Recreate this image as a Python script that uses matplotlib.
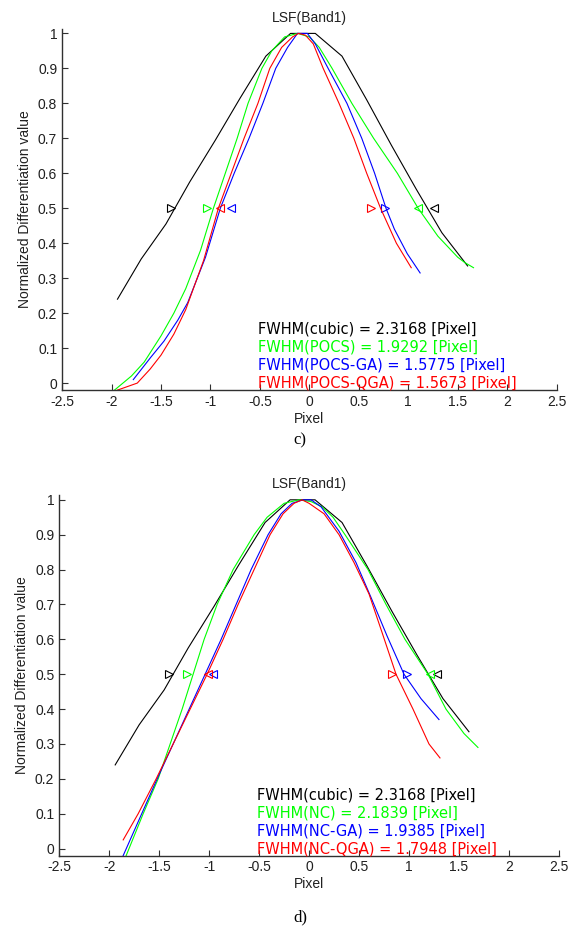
import matplotlib
matplotlib.use("Agg")
import matplotlib.pyplot as plt
import numpy as np

plt.rcParams['font.family'] = ['Liberation Sans', 'DejaVu Sans']

# ---- data: panel c) ----
cubic_x = [-1.94, -1.70, -1.45, -1.21, -0.95, -0.70, -0.44, -0.19, 0.06, 0.33, 0.58, 0.83, 1.08, 1.34, 1.60]
cubic_y = [0.24, 0.355, 0.455, 0.575, 0.695, 0.815, 0.935, 1.0, 1.0, 0.935, 0.81, 0.68, 0.555, 0.43, 0.335]

pocs_x = [-1.97, -1.80, -1.67, -1.50, -1.37, -1.25, -1.10, -0.97, -0.85, -0.73, -0.62, -0.48, -0.38, -0.25, -0.12,
          0.0, 0.10, 0.23, 0.43, 0.65, 0.89, 1.10, 1.30, 1.50, 1.57, 1.66]
pocs_y = [-0.02, 0.02, 0.06, 0.135, 0.20, 0.27, 0.38, 0.50, 0.60, 0.70, 0.80, 0.90, 0.95, 0.99, 1.0,
          0.99, 0.96, 0.90, 0.80, 0.70, 0.60, 0.50, 0.42, 0.36, 0.345, 0.33]

pocs_ga_x = [-1.78, -1.60, -1.47, -1.33, -1.23, -1.05, -0.90, -0.76, -0.61, -0.47, -0.34, -0.22, -0.12, -0.02,
             0.06, 0.19, 0.38, 0.53, 0.66, 0.775, 0.86, 0.99, 1.12]
pocs_ga_y = [0.01, 0.075, 0.12, 0.18, 0.23, 0.36, 0.50, 0.60, 0.70, 0.80, 0.90, 0.96, 1.0, 1.0,
             0.97, 0.90, 0.80, 0.70, 0.60, 0.50, 0.44, 0.37, 0.315]

pocs_qga_x = [-1.94, -1.74, -1.61, -1.50, -1.37, -1.25, -1.07, -0.92, -0.79, -0.66, -0.52, -0.40, -0.28, -0.17, -0.11,
              -0.04, 0.04, 0.14, 0.30, 0.45, 0.58, 0.72, 0.88, 1.03]
pocs_qga_y = [-0.02, 0.0, 0.04, 0.08, 0.14, 0.21, 0.35, 0.50, 0.60, 0.70, 0.80, 0.90, 0.96, 0.99, 1.0,
              0.995, 0.97, 0.90, 0.80, 0.70, 0.60, 0.50, 0.40, 0.33]

# ---- data: panel d) ----
nc_x = [-1.83, -1.66, -1.51, -1.39, -1.27, -1.16, -1.05, -0.92, -0.76, -0.55, -0.42, -0.25, -0.10,
        0.02, 0.13, 0.24, 0.36, 0.59, 0.77, 0.96, 1.19, 1.37, 1.55, 1.69]
nc_y = [-0.02, 0.10, 0.20, 0.30, 0.40, 0.50, 0.60, 0.70, 0.80, 0.90, 0.95, 0.99, 1.0,
        0.995, 0.98, 0.95, 0.90, 0.80, 0.70, 0.60, 0.50, 0.40, 0.33, 0.29]

nc_ga_x = [-1.86, -1.69, -1.52, -1.36, -1.20, -1.04, -0.88, -0.73, -0.58, -0.41, -0.28, -0.17, -0.06,
           0.02, 0.12, 0.30, 0.47, 0.62, 0.78, 0.95, 1.12, 1.30]
nc_ga_y = [-0.02, 0.09, 0.20, 0.30, 0.40, 0.50, 0.60, 0.70, 0.80, 0.90, 0.96, 0.99, 1.0,
           1.0, 0.98, 0.91, 0.82, 0.72, 0.61, 0.50, 0.43, 0.37]

nc_qga_x = [-1.86, -1.71, -1.53, -1.36, -1.19, -1.02, -0.86, -0.71, -0.55, -0.39, -0.26, -0.15, -0.07,
            0.0, 0.15, 0.30, 0.45, 0.60, 0.73, 0.87, 1.04, 1.20, 1.31]
nc_qga_y = [0.025, 0.10, 0.20, 0.30, 0.40, 0.50, 0.60, 0.70, 0.80, 0.90, 0.96, 0.99, 1.0,
            0.99, 0.96, 0.90, 0.82, 0.73, 0.62, 0.50, 0.40, 0.30, 0.26]

# half-max marker positions (left, right)
marks_c = {'cubic': (-1.40, 1.265), 'pocs': (-1.03, 1.10), 'ga': (-0.79, 0.76), 'qga': (-0.90, 0.625)}
marks_d = {'cubic': (-1.40, 1.28), 'nc': (-1.22, 1.21), 'ga': (-0.96, 0.98), 'qga': (-1.01, 0.83)}

labels_c = ['FWHM(cubic) = 2.3168 [Pixel]', 'FWHM(POCS) = 1.9292 [Pixel]',
            'FWHM(POCS-GA) = 1.5775 [Pixel]', 'FWHM(POCS-QGA) = 1.5673 [Pixel]']
labels_d = ['FWHM(cubic) = 2.3168 [Pixel]', 'FWHM(NC) = 2.1839 [Pixel]',
            'FWHM(NC-GA) = 1.9385 [Pixel]', 'FWHM(NC-QGA) = 1.7948 [Pixel]']

colors = ['#000000', '#00ff00', '#0000ff', '#ff0000']
left_mk = ['>', '>', '<', '<']
right_mk = ['<', '<', '>', '>']

fig = plt.figure(figsize=(5.75, 9.31), dpi=100)
ax1 = fig.add_axes([0.108, 0.581, 0.860, 0.388])
ax2 = fig.add_axes([0.103, 0.081, 0.869, 0.387])


def draw_panel(ax, series, marks, labels):
    for (xs, ys), (ml, mr), c, lm, rm in zip(series, marks, colors, left_mk, right_mk):
        ax.plot(xs, ys, color=c, lw=0.8)
        ax.plot([ml], [0.5], marker=lm, ms=6, mfc='none', mec=c, mew=0.8, ls='none')
        ax.plot([mr], [0.5], marker=rm, ms=6, mfc='none', mec=c, mew=0.8, ls='none')
    for i, (lab, c) in enumerate(zip(labels, colors)):
        ax.text(-0.52, 0.155 - 0.052 * i, lab, color=c, fontsize=10.5, family='DejaVu Sans',
                va='center', ha='left')
    ax.set_xlim(-2.5, 2.5)
    ax.set_ylim(-0.02, 1.013)
    ax.set_xticks(np.arange(-2.5, 2.51, 0.5))
    ax.set_xticklabels(['-2.5', '-2', '-1.5', '-1', '-0.5', '0', '0.5', '1', '1.5', '2', '2.5'])
    ax.set_yticks(np.arange(0, 1.01, 0.1))
    ax.set_yticklabels(['0', '0.1', '0.2', '0.3', '0.4', '0.5', '0.6', '0.7', '0.8', '0.9', '1'])
    ax.spines['top'].set_visible(False)
    ax.spines['right'].set_visible(False)
    for s in ['left', 'bottom']:
        ax.spines[s].set_color('#303030')
        ax.spines[s].set_linewidth(1.0)
    ax.tick_params(direction='in', length=4, width=0.8, colors='#303030', labelsize=10, labelcolor='#202020')
    ax.set_title('LSF(Band1)', fontsize=10, pad=5, color='#202020')
    ax.set_xlabel('Pixel', fontsize=10, color='#202020', labelpad=2)
    ax.set_ylabel('Normalized Differentiation value', fontsize=10, color='#202020', labelpad=4)


draw_panel(ax1, [(cubic_x, cubic_y), (pocs_x, pocs_y), (pocs_ga_x, pocs_ga_y), (pocs_qga_x, pocs_qga_y)],
           [marks_c['cubic'], marks_c['pocs'], marks_c['ga'], marks_c['qga']], labels_c)
draw_panel(ax2, [(cubic_x, cubic_y), (nc_x, nc_y), (nc_ga_x, nc_ga_y), (nc_qga_x, nc_qga_y)],
           [marks_d['cubic'], marks_d['nc'], marks_d['ga'], marks_d['qga']], labels_d)

fig.text(0.522, 1 - 440 / 931, 'c)', fontsize=12, family='Liberation Serif', ha='center', va='center')
fig.text(0.522, 1 - 917 / 931, 'd)', fontsize=12, family='Liberation Serif', ha='center', va='center')

fig.savefig('out.png', dpi=100)
